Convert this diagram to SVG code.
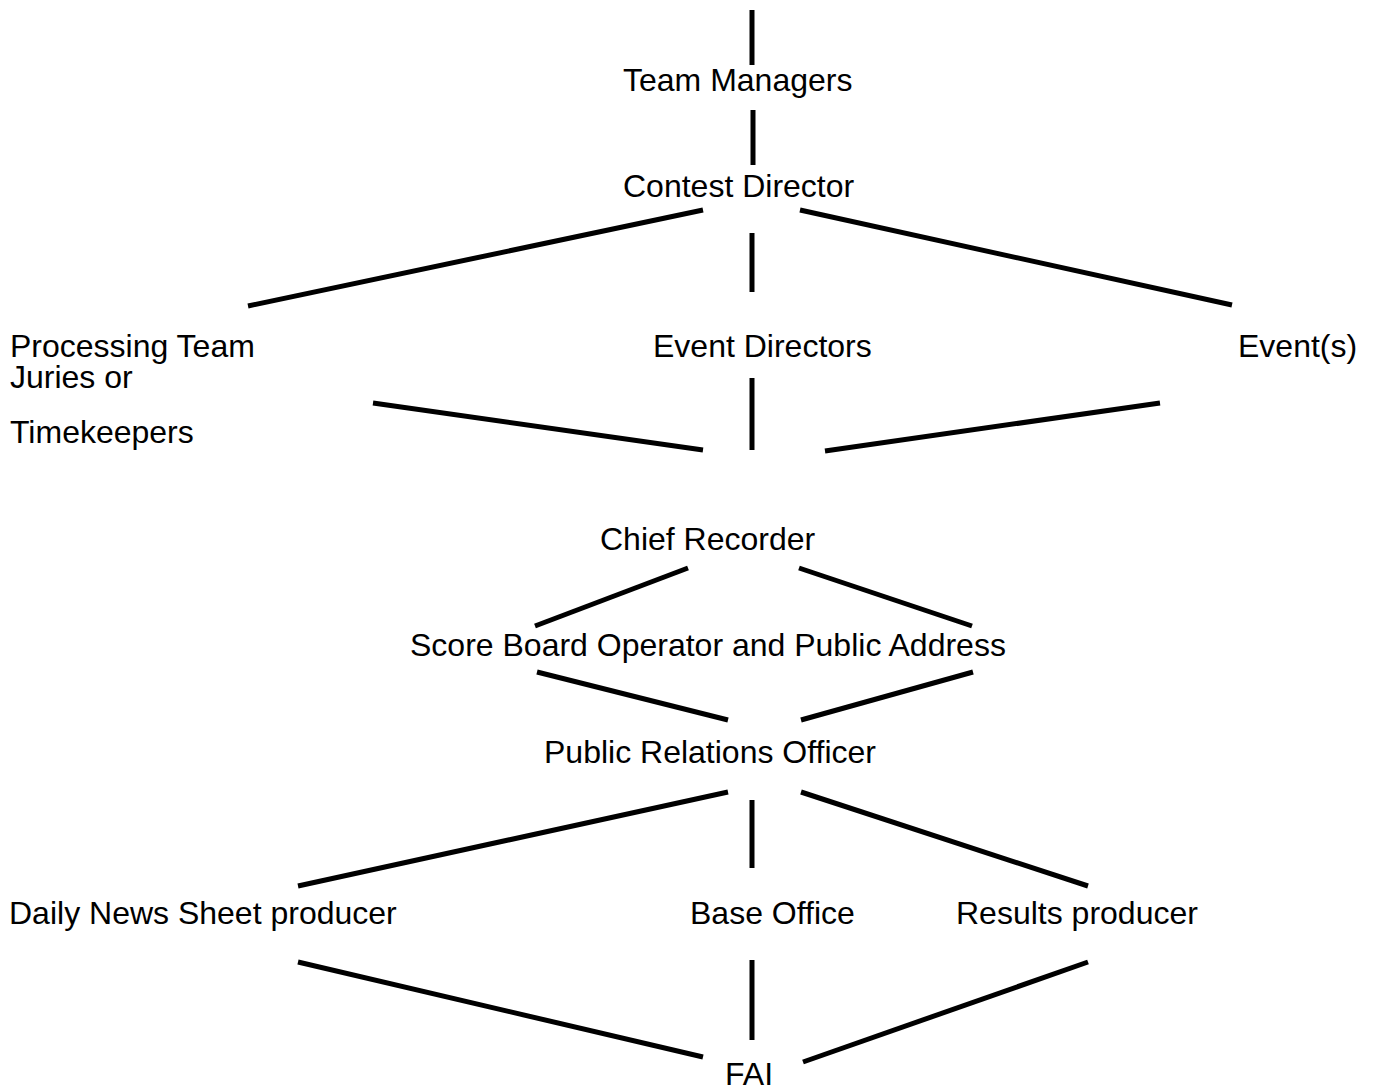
<svg xmlns="http://www.w3.org/2000/svg" width="1377" height="1085" viewBox="0 0 1377 1085">
<style>
.t{font-family:"Liberation Sans",Arial,sans-serif;font-size:32px;fill:#000}
.c line{stroke:#000;stroke-width:5}
</style>
<rect width="1377" height="1085" fill="#fff"/>
<g id="connectors" class="c">
<line x1="752" y1="10" x2="752" y2="65"/>
<line x1="753" y1="110" x2="753" y2="165"/>
<line x1="703" y1="210" x2="248" y2="306"/>
<line x1="800" y1="210" x2="1232" y2="305"/>
<line x1="752" y1="233" x2="752" y2="292"/>
<line x1="373" y1="403" x2="703" y2="450"/>
<line x1="752" y1="378" x2="752" y2="450"/>
<line x1="825" y1="451" x2="1160" y2="403"/>
<line x1="688" y1="568" x2="535" y2="626"/>
<line x1="799" y1="568" x2="972" y2="626"/>
<line x1="537" y1="672" x2="728" y2="720"/>
<line x1="973" y1="672" x2="801" y2="720"/>
<line x1="728" y1="792" x2="298" y2="886"/>
<line x1="752" y1="800" x2="752" y2="868"/>
<line x1="801" y1="792" x2="1088" y2="886"/>
<line x1="298" y1="962" x2="703" y2="1057"/>
<line x1="752" y1="960" x2="752" y2="1040"/>
<line x1="1088" y1="962" x2="803" y2="1062"/>
</g>
<g id="team-managers"><text class="t" x="623" y="91">Team Managers</text></g>
<g id="contest-director"><text class="t" x="623" y="197">Contest Director</text></g>
<g id="processing-team"><text class="t" x="10" y="357">Processing Team</text><text class="t" x="10" y="388">Juries or</text><text class="t" x="10" y="443">Timekeepers</text></g>
<g id="event-directors"><text class="t" x="653" y="357">Event Directors</text></g>
<g id="events"><text class="t" x="1238" y="357">Event(s)</text></g>
<g id="chief-recorder"><text class="t" x="600" y="550">Chief Recorder</text></g>
<g id="score-board"><text class="t" x="410" y="656">Score Board Operator and Public Address</text></g>
<g id="pro"><text class="t" x="544" y="763">Public Relations Officer</text></g>
<g id="daily-news"><text class="t" x="9" y="924">Daily News Sheet producer</text></g>
<g id="base-office"><text class="t" x="690" y="924">Base Office</text></g>
<g id="results"><text class="t" x="956" y="924">Results producer</text></g>
<g id="fai"><text class="t" x="725" y="1085">FAI</text></g>
</svg>
